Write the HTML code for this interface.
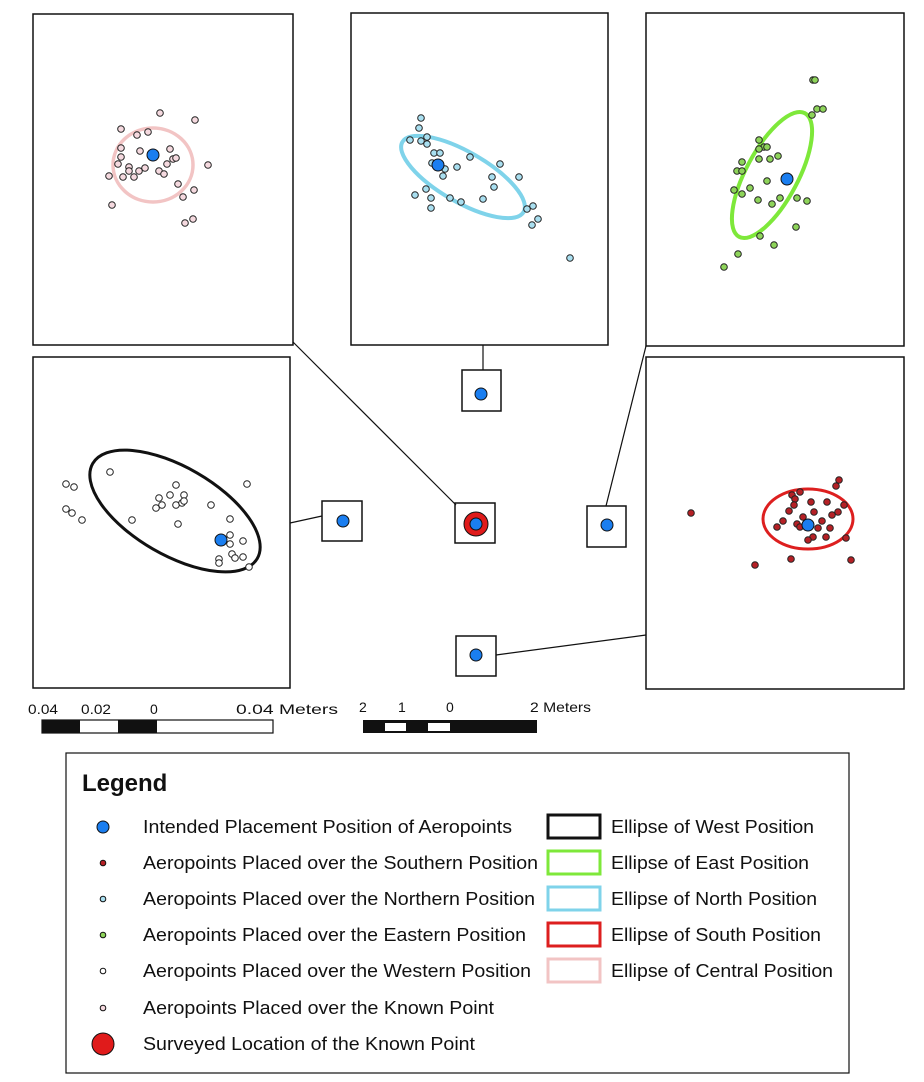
<!DOCTYPE html>
<html><head><meta charset="utf-8"><style>
html,body{margin:0;padding:0;background:#fff;}
svg{display:block;font-family:"Liberation Sans",Arial,sans-serif;}
</style></head><body>
<svg width="924" height="1082" viewBox="0 0 924 1082" xmlns="http://www.w3.org/2000/svg">
<rect width="924" height="1082" fill="#fff"/>
<g fill="#fff" stroke="#111" stroke-width="1.5">
<rect x="33" y="14" width="260" height="331"/>
<rect x="351" y="13" width="257" height="332"/>
<rect x="646" y="13" width="258" height="333"/>
<rect x="33" y="357" width="257" height="331"/>
<rect x="646" y="357" width="258" height="332"/>
<rect x="462" y="370" width="39" height="41"/>
<rect x="322" y="501" width="40" height="40"/>
<rect x="455" y="503" width="40" height="40"/>
<rect x="587" y="506" width="39" height="41"/>
<rect x="456" y="636" width="40" height="40"/>
</g>
<g stroke="#111" stroke-width="1.2">
<line x1="483" y1="345" x2="483" y2="370"/>
<line x1="293" y1="342" x2="456" y2="505"/>
<line x1="290" y1="523" x2="322" y2="516"/>
<line x1="646" y1="346" x2="606" y2="506"/>
<line x1="496" y1="655" x2="646" y2="635"/>
</g>
<g stroke="#111" stroke-width="1">
<circle cx="481" cy="394" r="6" fill="#1a7ef0"/>
<circle cx="343" cy="521" r="6" fill="#1a7ef0"/>
<circle cx="476" cy="524" r="12" fill="#e01b1b"/>
<circle cx="476" cy="524" r="6" fill="#1a7ef0"/>
<circle cx="607" cy="525" r="6" fill="#1a7ef0"/>
<circle cx="476" cy="655" r="6" fill="#1a7ef0"/>
</g>
<ellipse cx="153" cy="165" rx="40" ry="37" fill="none" stroke="#f2c4c4" stroke-width="3.5"/>
<g fill="#f5d9df" stroke="#222" stroke-width="1">
<circle cx="160" cy="113" r="3.3"/><circle cx="195" cy="120" r="3.3"/><circle cx="121" cy="129" r="3.3"/><circle cx="137" cy="135" r="3.3"/><circle cx="148" cy="132" r="3.3"/><circle cx="121" cy="148" r="3.3"/><circle cx="140" cy="151" r="3.3"/><circle cx="170" cy="149" r="3.3"/><circle cx="173" cy="159" r="3.3"/><circle cx="176" cy="158" r="3.3"/><circle cx="208" cy="165" r="3.3"/><circle cx="121" cy="157" r="3.3"/><circle cx="118" cy="164" r="3.3"/><circle cx="129" cy="167" r="3.3"/><circle cx="129" cy="171" r="3.3"/><circle cx="109" cy="176" r="3.3"/><circle cx="123" cy="177" r="3.3"/><circle cx="134" cy="177" r="3.3"/><circle cx="139" cy="171" r="3.3"/><circle cx="145" cy="168" r="3.3"/><circle cx="159" cy="171" r="3.3"/><circle cx="164" cy="174" r="3.3"/><circle cx="167" cy="164" r="3.3"/><circle cx="178" cy="184" r="3.3"/><circle cx="194" cy="190" r="3.3"/><circle cx="183" cy="197" r="3.3"/><circle cx="112" cy="205" r="3.3"/><circle cx="185" cy="223" r="3.3"/><circle cx="193" cy="219" r="3.3"/>
</g>
<circle cx="153" cy="155" r="6" fill="#1a7ef0" stroke="#111"/>
<ellipse cx="463" cy="177" rx="70" ry="25" transform="rotate(30 463 177)" fill="none" stroke="#7fd3ea" stroke-width="4"/>
<g fill="#a9dff0" stroke="#222" stroke-width="1">
<circle cx="421" cy="118" r="3.3"/><circle cx="419" cy="128" r="3.3"/><circle cx="410" cy="140" r="3.3"/><circle cx="421" cy="141" r="3.3"/><circle cx="427" cy="137" r="3.3"/><circle cx="427" cy="144" r="3.3"/><circle cx="434" cy="153" r="3.3"/><circle cx="440" cy="153" r="3.3"/><circle cx="432" cy="163" r="3.3"/><circle cx="445" cy="169" r="3.3"/><circle cx="443" cy="176" r="3.3"/><circle cx="457" cy="167" r="3.3"/><circle cx="470" cy="157" r="3.3"/><circle cx="500" cy="164" r="3.3"/><circle cx="519" cy="177" r="3.3"/><circle cx="492" cy="177" r="3.3"/><circle cx="494" cy="187" r="3.3"/><circle cx="426" cy="189" r="3.3"/><circle cx="415" cy="195" r="3.3"/><circle cx="431" cy="198" r="3.3"/><circle cx="431" cy="208" r="3.3"/><circle cx="450" cy="198" r="3.3"/><circle cx="461" cy="202" r="3.3"/><circle cx="483" cy="199" r="3.3"/><circle cx="527" cy="209" r="3.3"/><circle cx="533" cy="206" r="3.3"/><circle cx="538" cy="219" r="3.3"/><circle cx="532" cy="225" r="3.3"/><circle cx="570" cy="258" r="3.3"/>
</g>
<circle cx="438" cy="165" r="6" fill="#1a7ef0" stroke="#111"/>
<ellipse cx="772" cy="175" rx="70" ry="26" transform="rotate(-62 772 175)" fill="none" stroke="#7ee83a" stroke-width="4"/>
<g fill="#8ed45a" stroke="#222" stroke-width="1">
<circle cx="813" cy="80" r="3.3"/><circle cx="815" cy="80" r="3.3"/><circle cx="817" cy="109" r="3.3"/><circle cx="823" cy="109" r="3.3"/><circle cx="812" cy="115" r="3.3"/><circle cx="759" cy="140" r="3.3"/><circle cx="764" cy="147" r="3.3"/><circle cx="767" cy="147" r="3.3"/><circle cx="759" cy="149" r="3.3"/><circle cx="742" cy="162" r="3.3"/><circle cx="737" cy="171" r="3.3"/><circle cx="742" cy="171" r="3.3"/><circle cx="759" cy="159" r="3.3"/><circle cx="770" cy="159" r="3.3"/><circle cx="778" cy="156" r="3.3"/><circle cx="767" cy="181" r="3.3"/><circle cx="750" cy="188" r="3.3"/><circle cx="734" cy="190" r="3.3"/><circle cx="742" cy="194" r="3.3"/><circle cx="758" cy="200" r="3.3"/><circle cx="772" cy="204" r="3.3"/><circle cx="780" cy="198" r="3.3"/><circle cx="797" cy="198" r="3.3"/><circle cx="807" cy="201" r="3.3"/><circle cx="796" cy="227" r="3.3"/><circle cx="760" cy="236" r="3.3"/><circle cx="774" cy="245" r="3.3"/><circle cx="738" cy="254" r="3.3"/><circle cx="724" cy="267" r="3.3"/>
</g>
<circle cx="787" cy="179" r="6" fill="#1a7ef0" stroke="#111"/>
<ellipse cx="175" cy="511" rx="95" ry="44" transform="rotate(30 175 511)" fill="none" stroke="#111" stroke-width="3"/>
<g fill="#fff" stroke="#222" stroke-width="1">
<circle cx="66" cy="484" r="3.3"/><circle cx="74" cy="487" r="3.3"/><circle cx="66" cy="509" r="3.3"/><circle cx="72" cy="513" r="3.3"/><circle cx="82" cy="520" r="3.3"/><circle cx="110" cy="472" r="3.3"/><circle cx="132" cy="520" r="3.3"/><circle cx="176" cy="485" r="3.3"/><circle cx="170" cy="495" r="3.3"/><circle cx="159" cy="498" r="3.3"/><circle cx="184" cy="495" r="3.3"/><circle cx="162" cy="505" r="3.3"/><circle cx="156" cy="508" r="3.3"/><circle cx="176" cy="505" r="3.3"/><circle cx="182" cy="503" r="3.3"/><circle cx="184" cy="501" r="3.3"/><circle cx="178" cy="524" r="3.3"/><circle cx="211" cy="505" r="3.3"/><circle cx="247" cy="484" r="3.3"/><circle cx="230" cy="519" r="3.3"/><circle cx="230" cy="535" r="3.3"/><circle cx="230" cy="544" r="3.3"/><circle cx="243" cy="541" r="3.3"/><circle cx="232" cy="554" r="3.3"/><circle cx="235" cy="558" r="3.3"/><circle cx="243" cy="557" r="3.3"/><circle cx="219" cy="559" r="3.3"/><circle cx="219" cy="563" r="3.3"/><circle cx="249" cy="567" r="3.3"/>
</g>
<circle cx="221" cy="540" r="6" fill="#1a7ef0" stroke="#111"/>
<ellipse cx="808" cy="519" rx="45" ry="30" fill="none" stroke="#dd1f1f" stroke-width="3"/>
<g fill="#b52025" stroke="#222" stroke-width="1">
<circle cx="839" cy="480" r="3.3"/><circle cx="836" cy="486" r="3.3"/><circle cx="792" cy="495" r="3.3"/><circle cx="800" cy="492" r="3.3"/><circle cx="795" cy="499" r="3.3"/><circle cx="794" cy="505" r="3.3"/><circle cx="811" cy="502" r="3.3"/><circle cx="827" cy="502" r="3.3"/><circle cx="844" cy="505" r="3.3"/><circle cx="838" cy="512" r="3.3"/><circle cx="832" cy="515" r="3.3"/><circle cx="789" cy="511" r="3.3"/><circle cx="814" cy="512" r="3.3"/><circle cx="803" cy="517" r="3.3"/><circle cx="783" cy="521" r="3.3"/><circle cx="777" cy="527" r="3.3"/><circle cx="797" cy="524" r="3.3"/><circle cx="800" cy="527" r="3.3"/><circle cx="822" cy="521" r="3.3"/><circle cx="818" cy="528" r="3.3"/><circle cx="830" cy="528" r="3.3"/><circle cx="813" cy="537" r="3.3"/><circle cx="808" cy="540" r="3.3"/><circle cx="826" cy="537" r="3.3"/><circle cx="846" cy="538" r="3.3"/><circle cx="691" cy="513" r="3.3"/><circle cx="791" cy="559" r="3.3"/><circle cx="755" cy="565" r="3.3"/><circle cx="851" cy="560" r="3.3"/>
</g>
<circle cx="808" cy="525" r="6" fill="#1a7ef0" stroke="#111"/>
<g font-size="14" fill="#111">
<text x="28" y="714" textLength="30" lengthAdjust="spacingAndGlyphs">0.04</text>
<text x="81" y="714" textLength="30" lengthAdjust="spacingAndGlyphs">0.02</text>
<text x="150" y="714">0</text>
<text x="236" y="714" textLength="102" lengthAdjust="spacingAndGlyphs">0.04 Meters</text>
<text x="359" y="712">2</text><text x="398" y="712">1</text><text x="446" y="712">0</text>
<text x="530" y="712" textLength="61" lengthAdjust="spacingAndGlyphs">2 Meters</text>
</g>
<rect x="42" y="720" width="231" height="13" fill="#fff" stroke="#111" stroke-width="1.2"/>
<rect x="42" y="720" width="38" height="13" fill="#111"/>
<rect x="118" y="720" width="39" height="13" fill="#111"/>
<rect x="363" y="720" width="174" height="13" fill="#111"/>
<rect x="385" y="723" width="21" height="8" fill="#fff"/>
<rect x="428" y="723" width="22" height="8" fill="#fff"/>
<rect x="66" y="753" width="783" height="320" fill="#fff" stroke="#111" stroke-width="1.2"/>
<text x="82" y="791" font-size="24" font-weight="bold" fill="#111">Legend</text>
<g stroke="#111" stroke-width="1">
<circle cx="103" cy="827" r="6" fill="#1a7ef0"/>
<circle cx="103" cy="863" r="2.8" fill="#b52025"/>
<circle cx="103" cy="899" r="2.8" fill="#a9dff0"/>
<circle cx="103" cy="935" r="2.8" fill="#8ed45a"/>
<circle cx="103" cy="971" r="2.8" fill="#fff"/>
<circle cx="103" cy="1008" r="2.8" fill="#f5d9df"/>
<circle cx="103" cy="1044" r="11" fill="#e01b1b"/>
</g>
<g font-size="18" fill="#111" lengthAdjust="spacingAndGlyphs">
<text x="143" y="833" textLength="369" lengthAdjust="spacingAndGlyphs">Intended Placement Position of Aeropoints</text>
<text x="143" y="869" textLength="395" lengthAdjust="spacingAndGlyphs">Aeropoints Placed over the Southern Position</text>
<text x="143" y="905" textLength="392" lengthAdjust="spacingAndGlyphs">Aeropoints Placed over the Northern Position</text>
<text x="143" y="941" textLength="383" lengthAdjust="spacingAndGlyphs">Aeropoints Placed over the Eastern Position</text>
<text x="143" y="977" textLength="388" lengthAdjust="spacingAndGlyphs">Aeropoints Placed over the Western Position</text>
<text x="143" y="1014" textLength="351" lengthAdjust="spacingAndGlyphs">Aeropoints Placed over the Known Point</text>
<text x="143" y="1050" textLength="332" lengthAdjust="spacingAndGlyphs">Surveyed Location of the Known Point</text>
<text x="611" y="833" textLength="203" lengthAdjust="spacingAndGlyphs">Ellipse of West Position</text>
<text x="611" y="869" textLength="198" lengthAdjust="spacingAndGlyphs">Ellipse of East Position</text>
<text x="611" y="905" textLength="206" lengthAdjust="spacingAndGlyphs">Ellipse of North Position</text>
<text x="611" y="941" textLength="210" lengthAdjust="spacingAndGlyphs">Ellipse of South Position</text>
<text x="611" y="977" textLength="222" lengthAdjust="spacingAndGlyphs">Ellipse of Central Position</text>
</g>
<g fill="#fff" stroke-width="3">
<rect x="548" y="815" width="52" height="23" stroke="#111"/>
<rect x="548" y="851" width="52" height="23" stroke="#7ee83a"/>
<rect x="548" y="887" width="52" height="23" stroke="#7fd3ea"/>
<rect x="548" y="923" width="52" height="23" stroke="#dd1f1f"/>
<rect x="548" y="959" width="52" height="23" stroke="#f2c4c4"/>
</g>
</svg>
</body></html>
